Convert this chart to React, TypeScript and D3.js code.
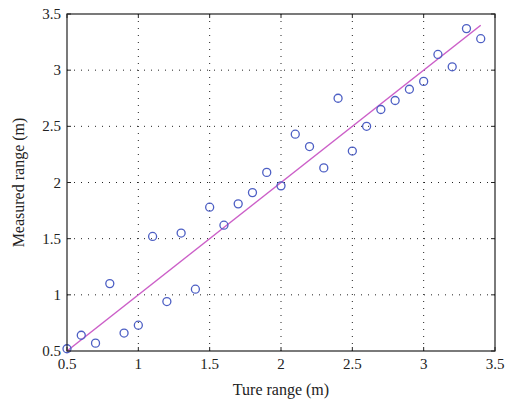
import React from "react";
import * as d3 from "d3";

const trueRange = [0.5, 0.6, 0.7, 0.8, 0.9, 1.0, 1.1, 1.2, 1.3, 1.4, 1.5, 1.6, 1.7, 1.8, 1.9, 2.0, 2.1, 2.2, 2.3, 2.4, 2.5, 2.6, 2.7, 2.8, 2.9, 3.0, 3.1, 3.2, 3.3, 3.4];
const measured = [0.52, 0.64, 0.57, 1.1, 0.66, 0.73, 1.52, 0.94, 1.55, 1.05, 1.78, 1.62, 1.81, 1.91, 2.09, 1.97, 2.43, 2.32, 2.13, 2.75, 2.28, 2.5, 2.65, 2.73, 2.83, 2.9, 3.14, 3.03, 3.37, 3.28];
const fitLine = [0.5, 3.4];
const xTicks = [0.5, 1, 1.5, 2, 2.5, 3, 3.5];
const yTicks = [0.5, 1, 1.5, 2, 2.5, 3, 3.5];

export default function App() {
  const W = 506, H = 405;
  const L = 67, R = 495, T = 14, B = 351;
  const x = d3.scaleLinear().domain([0.5, 3.5]).range([L, R]);
  const y = d3.scaleLinear().domain([0.5, 3.5]).range([B, T]);
  const font = "'Liberation Serif', 'DejaVu Serif', serif";
  const line = d3.line<number>().x((d) => x(d)).y((d) => y(d));
  return (
    <svg width={W} height={H} style={{ position: "absolute", left: 0, top: 0 }}>
      <rect x={0} y={0} width={W} height={H} fill="#fff" />
      {xTicks.slice(1, -1).map((t) => (
        <line key={"gx" + t} x1={x(t)} x2={x(t)} y1={T} y2={B} stroke="#222" strokeWidth={1} strokeDasharray="1,6" />
      ))}
      {yTicks.slice(1, -1).map((t) => (
        <line key={"gy" + t} x1={L} x2={R} y1={y(t)} y2={y(t)} stroke="#222" strokeWidth={1} strokeDasharray="1,6" />
      ))}
      {xTicks.map((t) => (
        <g key={"tx" + t}>
          <line x1={x(t)} x2={x(t)} y1={B} y2={B - 4} stroke="#222" />
          <line x1={x(t)} x2={x(t)} y1={T} y2={T + 4} stroke="#222" />
          <text x={x(t)} y={B + 18} textAnchor="middle" fontFamily={font} fontSize={15} fill="#222">{String(t)}</text>
        </g>
      ))}
      {yTicks.map((t) => (
        <g key={"ty" + t}>
          <line x1={L} x2={L + 4} y1={y(t)} y2={y(t)} stroke="#222" />
          <line x1={R} x2={R - 4} y1={y(t)} y2={y(t)} stroke="#222" />
          <text x={L - 6} y={y(t) + 5} textAnchor="end" fontFamily={font} fontSize={15} fill="#222">{String(t)}</text>
        </g>
      ))}
      <path d={line(fitLine) || ""} stroke="#cc5fc8" strokeWidth={1.5} fill="none" />
      {trueRange.map((v, i) => (
        <circle key={i} cx={x(v)} cy={y(measured[i])} r={4} fill="none" stroke="#4d5fc4" strokeWidth={1.3} />
      ))}
      <rect x={L} y={T} width={R - L} height={B - T} fill="none" stroke="#222" strokeWidth={1.2} />
      <text x={(L + R) / 2} y={395} textAnchor="middle" fontFamily={font} fontSize={16} fill="#222">Ture range (m)</text>
      <text transform={`translate(24,${(T + B) / 2}) rotate(-90)`} textAnchor="middle" fontFamily={font} fontSize={16} fill="#222">Measured range (m)</text>
    </svg>
  );
}
